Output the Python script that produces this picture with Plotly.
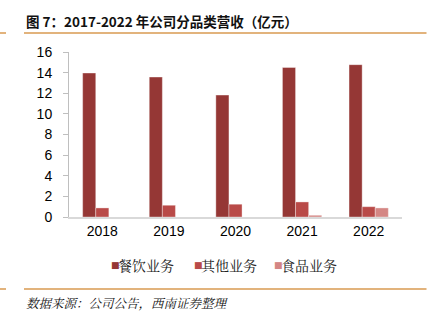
import plotly.graph_objects as go

years = ["2018", "2019", "2020", "2021", "2022"]
catering = [13.96, 13.57, 11.82, 14.50, 14.77]
other = [0.88, 1.14, 1.24, 1.46, 1.00]
food = [None, None, None, 0.17, 0.88]
series_names = ["餐饮业务", "其他业务", "食品业务"]
colors = ["#953735", "#B94A48", "#D48684"]

L, T, W, H = 69, 52, 333, 165


def px(x):
    return (x - L) / W


def py(y):
    return 1 - (y - T) / H


fig = go.Figure()
for name, vals, c in zip(series_names, [catering, other, food], colors):
    fig.add_trace(go.Bar(x=years, y=vals, name=name,
                         marker=dict(color=c, line=dict(color="rgba(255,255,255,0.6)", width=0.6))))

fig.update_layout(
    width=433, height=322,
    margin=dict(l=L, r=433 - L - W, t=T, b=322 - T - H),
    paper_bgcolor="white", plot_bgcolor="white",
    barmode="group", bargap=0.41, bargroupgap=0,
    font=dict(family="Liberation Sans, Arial", size=14, color="#000"),
    showlegend=False,
    xaxis=dict(showline=True, linecolor="#D9D9D9", linewidth=2, ticks="", showgrid=False,
               tickfont=dict(size=14)),
    yaxis=dict(range=[0, 16], dtick=2, showline=True, linecolor="#BFBFBF", linewidth=1,
               ticks="outside", ticklen=5, tickcolor="#BFBFBF", showgrid=False, zeroline=False,
               ticklabelstandoff=8, tickfont=dict(size=14)),
)

fig.add_annotation(text="图 7：2017-2022 年公司分品类营收（亿元）", xref="paper", yref="paper",
                   x=px(24), y=py(21), xanchor="left", yanchor="middle", showarrow=False, align="left",
                   font=dict(family="Noto Sans CJK SC", size=13.5, color="#111", weight="bold"))

leg_x = [110, 193, 273]
for name, c, x in zip(series_names, colors, leg_x):
    fig.add_annotation(text="■", xref="paper", yref="paper", x=px(x - 1), y=py(265),
                       xanchor="left", yanchor="middle", showarrow=False,
                       font=dict(family="DejaVu Sans", size=9, color=c))
    fig.add_annotation(text=name, xref="paper", yref="paper", x=px(x + 6), y=py(265),
                       xanchor="left", yanchor="middle", showarrow=False,
                       font=dict(family="Noto Serif CJK SC, Noto Sans CJK SC", size=14, color="#222"))

fig.add_annotation(text="<i>数据来源：公司公告，西南证券整理</i>", xref="paper", yref="paper",
                   x=px(24), y=py(303), xanchor="left", yanchor="middle", showarrow=False,
                   font=dict(family="Noto Serif CJK SC, Noto Sans CJK SC", size=12.5, color="#111"))
for yy in (33, 289):
    fig.add_shape(type="line", xref="paper", yref="paper", x0=px(24), x1=px(426.5),
                  y0=py(yy), y1=py(yy), line=dict(color="#D99A50", width=1.5))
    fig.add_shape(type="line", xref="paper", yref="paper", x0=px(0), x1=px(6),
                  y0=py(yy), y1=py(yy), line=dict(color="#D99A50", width=1.5))

fig.write_html("out.html")
